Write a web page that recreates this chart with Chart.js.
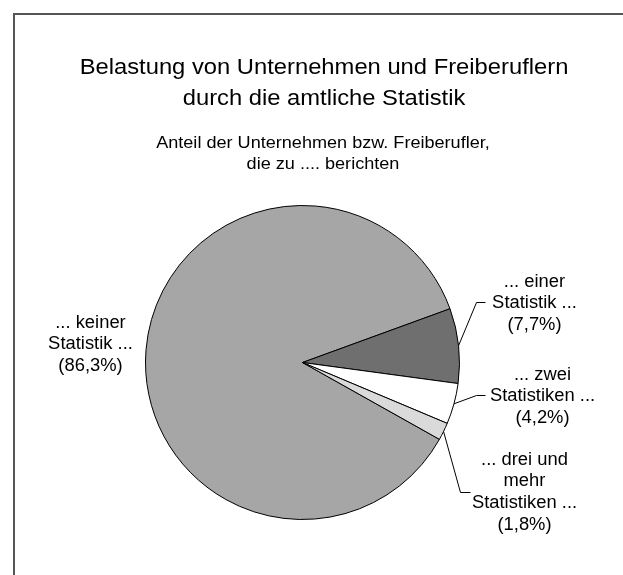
<!DOCTYPE html>
<html>
<head>
<meta charset="utf-8">
<script src="https://cdn.jsdelivr.net/npm/chart.js@4"></script>
<style>
  html, body { margin: 0; padding: 0; background: #fff; }
  canvas { display: block; }
</style>
</head>
<body>
<canvas id="pieChart" width="623" height="575"></canvas>
<script>
// ---------------- DATA ----------------

const categories = [
    "... keiner Statistik ...",
    "... einer Statistik ...",
    "... zwei Statistiken ...",
    "... drei und mehr Statistiken ..."
];

const shares = [86.3, 7.7, 4.2, 1.8];

// label text, line by line
const labelLines = [
    ["... keiner", "Statistik ...", "(86,3%)"],
    ["... einer", "Statistik ...", "(7,7%)"],
    ["... zwei", "Statistiken ...", "(4,2%)"],
    ["... drei und", "mehr", "Statistiken ...", "(1,8%)"]
];

const sliceColors = ["#a6a6a6", "#6f6f6f", "#ffffff", "#dadada"];

const titleLines = [
    "Belastung von Unternehmen und Freiberuflern",
    "durch die amtliche Statistik"
];

const subtitleLines = [
    "Anteil der Unternehmen bzw. Freiberufler,",
    "die zu .... berichten"
];


// ---------------- HELPERS ----------------

const FONT = "'Liberation Sans', Arial, Helvetica, sans-serif";

// text is a bit wider than normal in the reference, so stretch it
function wideText(ctx, text, x, y, size, stretch) {
    ctx.save();
    ctx.font = size + "px " + FONT;
    ctx.textAlign = "center";
    ctx.textBaseline = "alphabetic";
    ctx.fillStyle = "#000";
    ctx.translate(x, y);
    ctx.scale(stretch, 1);
    ctx.fillText(text, 0, 0);
    ctx.restore();
}


// ---------------- PLUGIN: frame + titles ----------------

const framePlugin = {
    id: "frame",
    beforeDraw(chart) {
        const ctx = chart.ctx;
        ctx.save();
        ctx.fillStyle = "#fff";
        ctx.fillRect(0, 0, chart.width, chart.height);
        ctx.strokeStyle = "#555";
        ctx.lineWidth = 2;
        ctx.beginPath();
        ctx.moveTo(14, chart.height);
        ctx.lineTo(14, 14);
        ctx.lineTo(chart.width, 14);
        ctx.stroke();
        ctx.restore();
    },
    afterDraw(chart) {
        const ctx = chart.ctx;
        titleLines.forEach((t, i) => wideText(ctx, t, 324, 74 + i * 31, 22, 1.08));
        subtitleLines.forEach((t, i) => wideText(ctx, t, 323, 148 + i * 21, 16, 1.13));
    }
};


// ---------------- PLUGIN: slice labels ----------------

// where each label block sits and how its leader line bends,
// relative to the pie centre
const labelPlacement = [
    { x: -212, y: -35, elbow: null },
    { x: 232,  y: -76, elbow: [174, -60], end: [183, -60] },
    { x: 240,  y: 17,  elbow: [174, 33],  end: [183, 33] },
    { x: 222,  y: 102, elbow: [158, 130], end: [168, 130] }
];

const labelPlugin = {
    id: "sliceLabels",
    afterDatasetsDraw(chart) {
        const ctx = chart.ctx;
        const arcs = chart.getDatasetMeta(0).data;

        arcs.forEach((arc, i) => {
            const p = labelPlacement[i];
            const cx = arc.x;
            const cy = arc.y;

            if (p.elbow) {
                const mid = (arc.startAngle + arc.endAngle) / 2;
                const r = arc.outerRadius;
                ctx.save();
                ctx.strokeStyle = "#000";
                ctx.lineWidth = 1;
                ctx.beginPath();
                ctx.moveTo(cx + Math.cos(mid) * r, cy + Math.sin(mid) * r);
                ctx.lineTo(cx + p.elbow[0], cy + p.elbow[1]);
                ctx.lineTo(cx + p.end[0], cy + p.end[1]);
                ctx.stroke();
                ctx.restore();
            }

            labelLines[i].forEach((line, k) => {
                wideText(ctx, line, cx + p.x, cy + p.y + k * 21.7, 17.5, 1.05);
            });
        });
    }
};


// ---------------- PIE CHART ----------------

const pieCtx =
document.getElementById("pieChart");

new Chart(pieCtx, {

    type: "pie",

    data: {

        labels: categories,

        datasets: [{

            data: shares,

            backgroundColor: sliceColors,

            borderColor: "#000",

            borderWidth: 1
        }]
    },

    options: {

        responsive: false,

        animation: false,

        events: [],

        rotation: 119.3,

        layout: {
            padding: { left: 145, right: 163, top: 205, bottom: 55 }
        },

        plugins: {
            legend: { display: false },
            title: { display: false },
            tooltip: { enabled: false }
        }
    },

    plugins: [framePlugin, labelPlugin]
});
</script>
</body>
</html>
